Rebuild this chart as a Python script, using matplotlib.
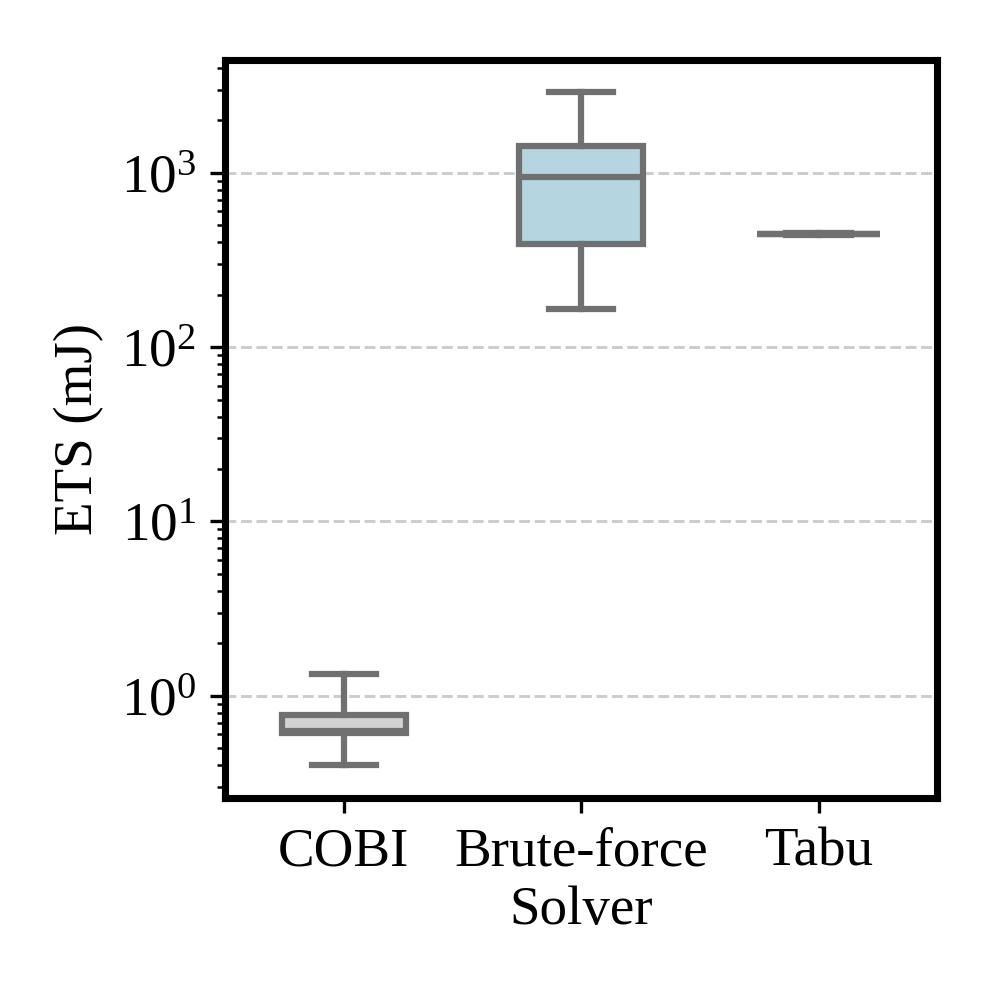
import matplotlib
matplotlib.use("Agg")
import matplotlib.pyplot as plt
import numpy as np

plt.rcParams['font.family'] = ['Liberation Serif', 'DejaVu Serif']
plt.rcParams['mathtext.fontset'] = 'custom'
plt.rcParams['mathtext.rm'] = 'Liberation Serif'

solvers = ["COBI", "Brute-force", "Tabu"]
whislo = [0.40, 166, 442]
q1 = [0.61, 390, 445]
med = [0.63, 940, 446]
q3 = [0.78, 1430, 447]
whishi = [1.34, 2890, 450]
colors = ["#d3d3d3", "#b5d5e0", "#c8c8c8"]

edge = "#707070"

fig = plt.figure(figsize=(3.32, 3.32), dpi=300)
ax = fig.add_axes([0.226, 0.199, 0.715, 0.741])

stats = []
for i, s in enumerate(solvers):
    stats.append(dict(label=s, whislo=whislo[i], q1=q1[i], med=med[i],
                      q3=q3[i], whishi=whishi[i], fliers=[]))

lw = 1.5
bp = ax.bxp(stats, positions=range(len(solvers)), widths=0.52,
            patch_artist=True, showfliers=False,
            boxprops=dict(edgecolor=edge, linewidth=lw),
            whiskerprops=dict(color=edge, linewidth=lw),
            capprops=dict(color=edge, linewidth=lw),
            medianprops=dict(color=edge, linewidth=lw),
            capwidths=0.27)
for patch, c in zip(bp['boxes'], colors):
    patch.set_facecolor(c)

ax.set_yscale('log')
ax.set_ylim(0.26, 4450)
ax.set_xlim(-0.5, 2.5)
ax.yaxis.grid(True, which='major', linestyle='--', color='#cccccc', linewidth=0.7)
ax.set_axisbelow(True)
for sp in ax.spines.values():
    sp.set_linewidth(1.7)
ax.tick_params(axis='both', labelsize=13.2)
ax.set_xlabel("Solver", fontsize=13.2, labelpad=2)
ax.set_ylabel("ETS (mJ)", fontsize=13.2)

fig.savefig("out.png", dpi=300)
